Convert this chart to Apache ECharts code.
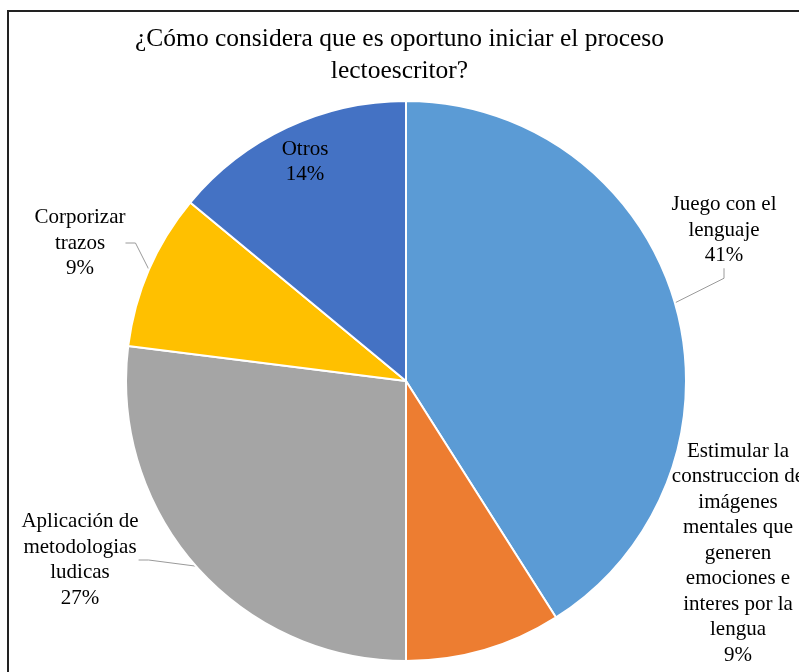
<!DOCTYPE html>
<html>
<head>
<meta charset="utf-8">
<script src="https://cdn.jsdelivr.net/npm/echarts@6/dist/echarts.min.js"></script>
<style>
  html, body { margin: 0; padding: 0; background: #fff; }
  #main { width: 799px; height: 672px; }
</style>
</head>
<body>
<div id="main"></div>
<script>
const titleText = '¿Cómo considera que es oportuno iniciar el proceso\nlectoescritor?'
const categories = [
  'Juego con el\nlenguaje',
  'Estimular la\nconstruccion de\nimágenes\nmentales que\ngeneren\nemociones e\ninteres por la\nlengua',
  'Aplicación de\nmetodologias\nludicas',
  'Corporizar\ntrazos',
  'Otros'
]
const values = [41, 9, 27, 9, 14]
const colors = ['#5B9BD5', '#ED7D31', '#A5A5A5', '#FFC000', '#4472C4']

// where each label sits (center of text block)
const labelSpots = [
  [724, 230],
  [738, 553],
  [80, 560],
  [80, 243],
  [305, 162]
]

const myChart = echarts.init(document.getElementById('main'))

const pieData = categories.map((name, i) => ({
  name: name,
  value: values[i],
  itemStyle: { color: colors[i] },
  labelLine: { show: i !== 1 && i !== 4 }
}))

myChart.setOption({
  animation: false,
  backgroundColor: '#fff',
  title: {
    text: titleText,
    left: 'center',
    top: 18,
    textStyle: {
      fontFamily: 'Liberation Serif',
      fontWeight: 'normal',
      fontSize: 25.5,
      lineHeight: 32,
      color: '#000'
    }
  },
  graphic: [
    {
      type: 'rect',
      shape: { x: 8, y: 11, width: 820, height: 700 },
      style: { fill: 'none', stroke: '#222', lineWidth: 2 },
      silent: true
    }
  ],
  series: [
    {
      type: 'pie',
      center: [406, 381],
      radius: 280,
      startAngle: 90,
      clockwise: true,
      data: pieData,
      itemStyle: { borderColor: '#fff', borderWidth: 2 },
      label: {
        show: true,
        formatter: '{b}\n{d}%',
        fontFamily: 'Liberation Serif',
        fontSize: 21,
        lineHeight: 25.5,
        color: '#000',
        align: 'center',
        overflow: 'none'
      },
      labelLine: {
        show: true,
        length: 10,
        length2: 10,
        lineStyle: { color: '#9a9a9a', width: 1 }
      },
      labelLayout: function (params) {
        const p = labelSpots[params.dataIndex]
        return { x: p[0], y: p[1], align: 'center', verticalAlign: 'middle' }
      }
    }
  ]
})
</script>
</body>
</html>
